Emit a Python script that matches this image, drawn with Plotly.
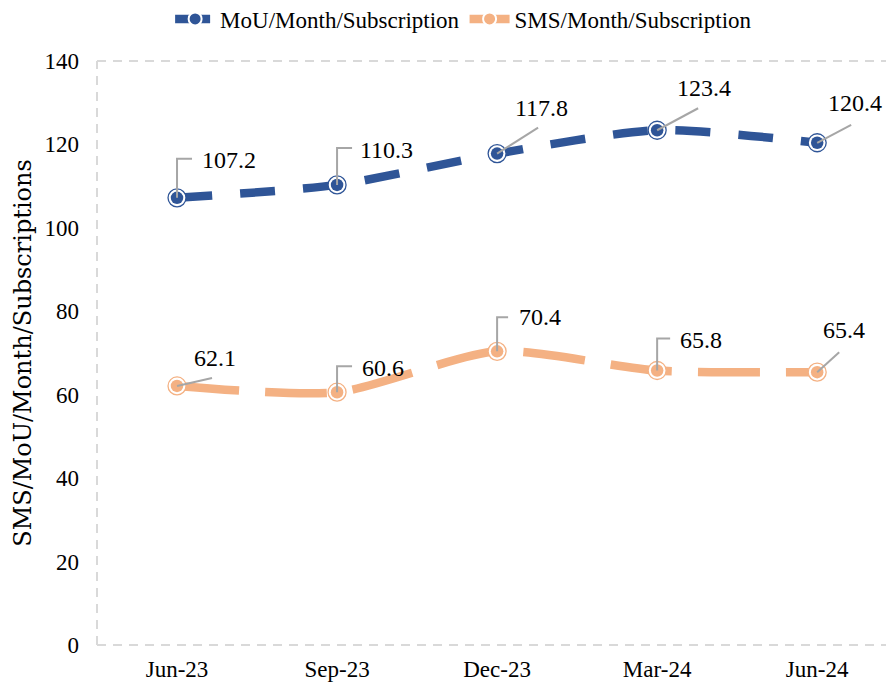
import plotly.graph_objects as go

quarters = ["Jun-23", "Sep-23", "Dec-23", "Mar-24", "Jun-24"]
mou = [107.2, 110.3, 117.8, 123.4, 120.4]
sms = [62.1, 60.6, 70.4, 65.8, 65.4]

mou_color = "#2F5597"
sms_color = "#F4B183"
leader_color = "#A6A6A6"

# label placement: (text dx, text dy, leader kind, leader w, leader h), pixels, y up
mou_labels = [(23, 38, "elbow", 15, 39), (21, 35, "elbow", 15, 37), (16, 46, "line", 41, 26),
              (18, 42, "line", 41, 22), (9, 40, "line", 34, 18)]
sms_labels = [(15, 28, "line", 35, 8), (23, 24, "elbow", 15, 26), (20, 34, "elbow", 11, 34),
              (21, 31, "elbow", 13, 32), (4, 42, "line", 22, 20)]

fig = go.Figure()


def add_series(name, values, color, dash):
    fig.add_trace(go.Scatter(
        x=quarters, y=values, mode="lines+markers", name=name,
        line=dict(color=color, width=8.5, dash=dash, shape="spline", smoothing=0.7),
        marker=dict(size=13, color=color, line=dict(color="white", width=2)),
    ))
    # outer ring + inner dot
    fig.add_trace(go.Scatter(
        x=quarters, y=values, mode="markers", showlegend=False, hoverinfo="skip",
        marker=dict(size=18, color="white", line=dict(color=color, width=1.3)),
    ))
    fig.add_trace(go.Scatter(
        x=quarters, y=values, mode="markers", showlegend=False, hoverinfo="skip",
        marker=dict(size=12.5, color=color, line=dict(width=0)),
    ))


def add_labels(values, placements):
    for q, v, (dx, dy, kind, w, h) in zip(quarters, values, placements):
        if kind == "elbow":
            path = f"M 0,0 L 0,{h} L {w},{h}"
        else:
            path = f"M 0,0 L {w},{h}"
        fig.add_shape(type="path", xref="x", yref="y", xsizemode="pixel", ysizemode="pixel",
                      xanchor=q, yanchor=v, path=path,
                      line=dict(color=leader_color, width=2))
        fig.add_annotation(x=q, y=v, xref="x", yref="y", text=f"{v:.1f}", showarrow=False,
                           xanchor="left", yanchor="middle", xshift=dx, yshift=dy,
                           font=dict(family="Liberation Serif", size=24, color="black"))


add_series("MoU/Month/Subscription", mou, mou_color, "35px,28px")
add_series("SMS/Month/Subscription", sms, sms_color, "62px,26px")
add_labels(mou, mou_labels)
add_labels(sms, sms_labels)

# dashed frame: left, top, bottom
for x0, y0, x1, y1 in [(0, 0, 0, 1), (0, 1, 1, 1), (0, 0, 1, 0)]:
    fig.add_shape(type="line", xref="paper", yref="paper", x0=x0, y0=y0, x1=x1, y1=y1,
                  line=dict(color="#D9D9D9", width=2, dash="9px,7px"), layer="below")

# page body has an 8px margin, so the figure is sized to fit the window
fig.update_layout(
    width=886, height=688,
    margin=dict(l=89, r=0, t=53, b=51, autoexpand=False),
    paper_bgcolor="white", plot_bgcolor="white",
    font=dict(family="Liberation Serif", size=23, color="black"),
    legend=dict(orientation="h", x=0.46, xanchor="center", y=1.072, yanchor="middle",
                font=dict(family="Liberation Serif", size=23, color="black"),
                itemwidth=40, tracegroupgap=0),
    showlegend=True,
)
fig.update_xaxes(type="category", range=[-0.5, 4.48], showgrid=False, zeroline=False,
                 showline=False, ticks="", ticklabelstandoff=8,
                 tickfont=dict(family="Liberation Serif", size=23, color="black"))
fig.update_yaxes(range=[0, 140], dtick=20, showgrid=False, zeroline=False, showline=False,
                 ticks="", ticklabelstandoff=17,
                 tickfont=dict(family="Liberation Serif", size=23, color="black"),
                 title=dict(text="SMS/MoU/Month/Subscriptions", standoff=6,
                            font=dict(family="DejaVu Serif", size=24, color="black")))

fig.write_html("out.html")
